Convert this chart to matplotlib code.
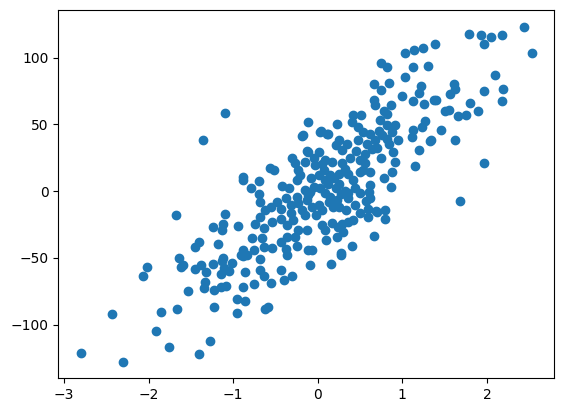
import matplotlib
matplotlib.use("Agg")
import matplotlib.pyplot as plt

# values
x = [
    -1.10, -0.12, -0.18, 0.23, 0.04, 0.12, 1.03, 1.14, 1.24, 1.39,
    0.75, 0.82, 1.12, 1.30, 1.03, 0.67, 0.84, 0.75, 1.22, 1.20,
    0.99, 1.12, 1.25, 1.37, 0.66, 0.68, 0.86, 0.78, 0.82, 0.42,
    0.51, 0.41, 0.48, 0.74, 0.82, 0.91, 1.27, 1.23, 1.13,
    1.79, 1.93, 1.96, 2.05, 2.18, 2.44, 2.53, 2.10, 1.61, 1.62,
    2.19, 1.96, 1.56, 1.40, 1.80, 2.18, 1.50, 1.55, 1.66, 1.75,
    1.90, 1.46, 1.34, 1.62, 1.97, 1.68,
    -1.68, -1.64, -1.62, -2.02, -2.07, -1.54, -2.43, -1.86, -1.66, -1.91,
    -1.76, -2.80, -2.30, -1.40, -1.28, -1.23, -0.95, -0.96, -0.86, -0.62,
    -0.59, -0.88, -0.75, -0.55, -0.40, -0.30, -0.44, -0.68, -0.64, -0.86,
    -1.09, -1.15, -1.23, -1.33, -1.34, -1.45, -1.38, -1.32, -1.24, -1.13,
    -1.11, -1.15, -1.05, -1.01, -1.60, -0.89, -0.84, -0.68, -0.37, -0.09,
    0.16, 0.28,
    -1.36, -0.19, -0.13, -0.30, -0.27, -0.23, -0.21, -0.57, -0.52, -0.88,
    -0.89, -0.69, -0.79, -0.70, -0.68, -0.34, -0.38, -0.32, -0.62, -0.44,
    -1.10, -0.68, -0.74, -1.12, -1.13, -1.24, -0.94, -0.64, -0.54, -0.44,
    -0.36, -0.78, -0.66, -0.64, -1.40, -1.45, -1.18, -0.88, -0.91, -0.76,
    -0.54, -0.44, -0.36, -0.27, -0.23, -0.38, -0.25, -0.11, -1.12, -0.32,
    -0.29, -0.25, -0.23, -0.19, -0.15, -0.15, -0.11,
    0.03, 0.11, 0.25, 0.21, 0.29, 0.34, 0.54, 0.62, 0.76, 0.82,
    0.88, 0.84, 0.68, 0.58, 0.64, 0.56, 0.50, 0.56, 0.54, 0.50,
    0.62, 0.89, 0.91, 0.88, 0.86, 1.11, 1.20, 1.33, 1.15, 0.62,
    0.60, 0.50, 0.57, 0.59, 0.69, 0.50, 0.59, 0.79, 0.36, 0.66,
    0.42, 0.36, 0.29, 0.24, 0.17, 0.05, 0.09, 0.30, 0.23, 0.10,
    0.40, 0.28, -0.07, -0.13, -0.07, 0.01, -0.13, -0.09, -0.05, 0.03,
    0.09, 0.15, 0.13, 0.21, 0.25, 0.19, 0.09, 0.01, 0.07, -0.03,
    -0.11, 0.01, 0.09, 0.17, 0.29, 0.32, 0.25, 0.36, 0.42, 0.44,
    0.23, 0.25, 0.36, 0.80, 0.70,
    -0.25, -0.15, -0.05, 0.05, 0.12, 0.18, 0.28, 0.32, -0.02, 0.05,
    0.15, 0.38, 0.45, 0.48, 0.70, 0.75, 0.78, 0.95, 0.72, -0.42,
    -0.48, -0.55, -0.08, 0.33, 0.44, 0.62,
]
y = [
    58.7, 52.0, 41.8, 50.5, 44.8, 43.0, 103.2, 106.0, 107.2, 110.2,
    95.8, 92.8, 93.3, 94.0, 85.8, 79.9, 81.1, 76.1, 79.1, 73.7,
    70.9, 67.2, 65.4, 68.4, 67.9, 64.2, 64.7, 59.7, 58.0, 56.7,
    56.7, 51.7, 48.0, 53.0, 49.3, 49.3, 52.2, 48.0, 45.5,
    117.7, 117.2, 110.2, 115.2, 116.9, 123.1, 103.5, 87.1, 80.4, 76.6,
    76.6, 75.1, 72.9, 68.4, 66.2, 67.7, 59.7, 61.0, 56.0, 56.7,
    59.7, 45.5, 38.0, 38.6, 20.7, -7.5,
    -18.2, -50.2, -56.5, -56.9, -63.9, -74.6, -92.0, -90.5, -88.0, -104.7,
    -116.6, -120.9, -127.6, -121.9, -112.4, -86.8, -91.3, -80.6, -82.1, -88.0,
    -86.8, -71.4, -69.6, -68.9, -66.4, -63.2, -59.0, -59.0, -63.9, -60.7,
    -70.9, -71.9, -73.9, -67.7, -72.6, -58.2, -55.2, -60.2, -54.7, -52.2,
    -57.7, -62.2, -59.7, -54.0, -55.2, -48.5, -47.8, -50.7, -47.8, -55.2,
    -54.7, -47.8,
    38.6, 41.0, 30.1, 24.9, 20.7, 15.7, 11.9, 17.7, 16.2, 10.7,
    8.7, 7.5, 2.0, -2.2, -8.0, 2.0, -5.4, -10.4, -14.2, -13.4,
    -17.2, -19.7, -24.6, -24.6, -29.1, -26.6, -26.1, -27.8, -22.9, -21.1,
    -25.4, -35.3, -35.3, -41.6, -37.8, -42.0, -39.8, -44.0, -47.8, -44.0,
    -42.8, -37.8, -34.1, -34.1, -29.1, -43.3, -41.0, -44.0, -50.2, -16.6,
    -21.6, -4.3, -9.2, -14.2, -17.9, 0.7, -3.0,
    44.3, 43.0, 38.0, 34.3, 30.6, 35.6, 44.3, 43.0, 41.8, 39.3,
    44.3, 35.6, 38.0, 35.6, 31.9, 28.1, 23.1, 20.7, 15.7, 14.4,
    14.4, 29.3, 21.9, 14.4, 3.2, 40.5, 31.1, 37.5, 18.7, 4.5,
    -0.5, -1.7, -7.5, -13.7, -14.9, -16.2, -19.6, -21.1, -5.4, -33.6,
    -21.6, -22.9, -24.6, -26.6, -24.1, -25.4, -29.1, -30.4, -34.1, -36.6,
    -41.0, -46.5, -44.0, -29.1, -11.7, -10.4, -6.7, -0.5, 3.2, 2.0,
    -1.7, -4.3, -8.0, 2.0, 5.7, 9.5, 8.2, 11.9, 15.7, 19.4,
    29.3, 29.3, 23.1, 21.9, 20.7, 16.9, 13.2, 13.2, 8.2, 2.0,
    -6.7, -11.7, -1.7, -14.2, -15.4,
    8.0, 22.0, 25.0, 20.0, 5.0, -12.0, -2.0, 0.0, -18.0, -14.0,
    12.0, 25.0, 30.0, 38.0, 32.0, 25.0, 10.0, 38.0, 45.0, 4.0,
    -8.0, -12.0, 10.0, -14.0, -10.0, -5.0,
]

fig = plt.figure(figsize=(5.63, 4.13), dpi=100)
ax = fig.add_axes([0.1039, 0.084, 0.8806, 0.8918])
ax.scatter(x, y)

fig.savefig("out.png", dpi=100)
